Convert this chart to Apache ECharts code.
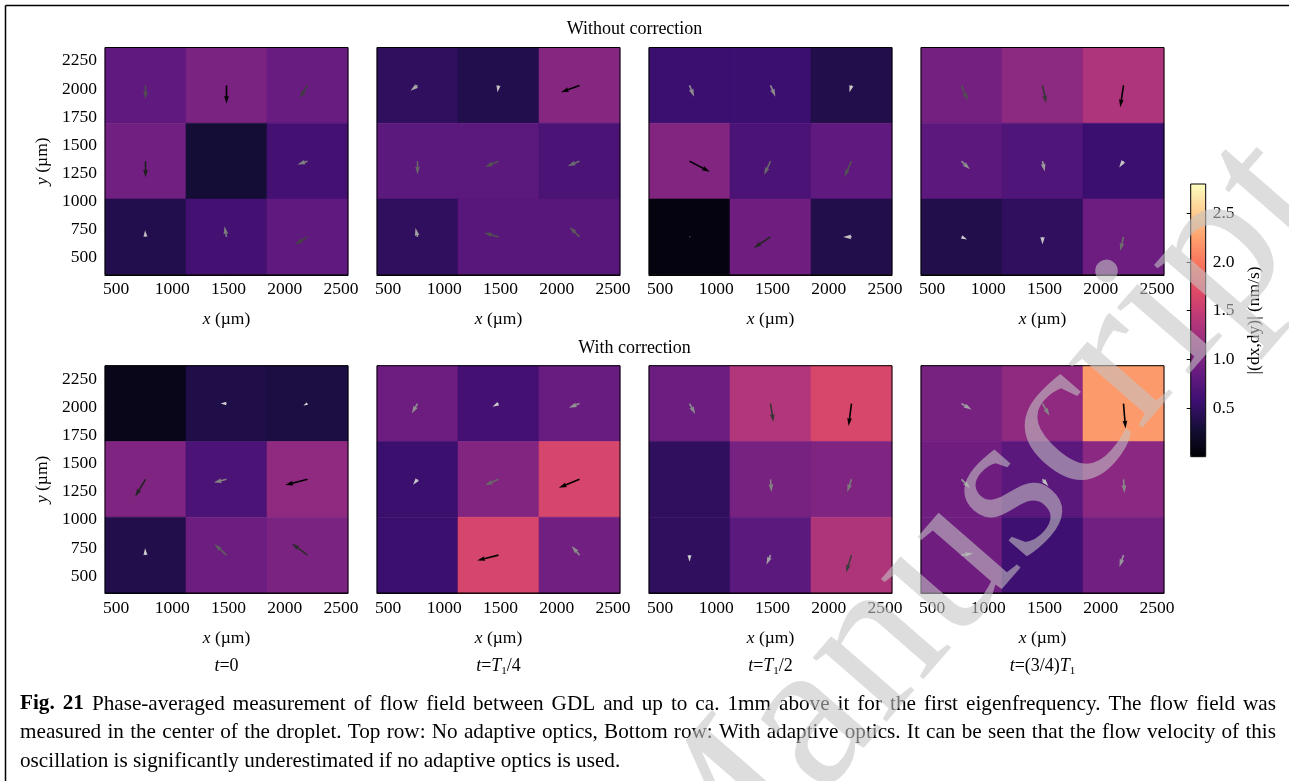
<!DOCTYPE html>
<html><head><meta charset="utf-8">
<script src="https://cdn.jsdelivr.net/npm/echarts@6/dist/echarts.min.js"></script>
<style>html,body{margin:0;padding:0;background:#fff}#c{width:1289px;height:781px}</style>
</head><body><div id="c"></div>
<script>
// ---------- data ----------
const xEdges = [402, 1122, 1842, 2562];            // µm, cell boundaries in x
const yEdges = [2368, 1695.3, 1022.7, 350];        // µm, cell boundaries in y (top to bottom)
const xTicks = [500, 1000, 1500, 2000, 2500];
const yTicks = [500, 750, 1000, 1250, 1500, 1750, 2000, 2250];
const cbTicks = [0.5, 1.0, 1.5, 2.0, 2.5];
const cbRange = [0, 2.8];
const rowTitles = ['Without correction', 'With correction'];
const phaseLabels = ['{i|t}=0', '{i|t}={i|T}{s|1}/4', '{i|t}={i|T}{s|1}/2', '{i|t}=(3/4){i|T}{s|1}'];

// |(dx,dy)| in nm/s, 3x3 cells, row-major, top row first
const magTop1 = [0.81, 1.00, 0.87, 0.93, 0.28, 0.62, 0.39, 0.62, 0.81];
const magTop2 = [0.48, 0.39, 1.07, 0.78, 0.78, 0.67, 0.48, 0.76, 0.76];
const magTop3 = [0.56, 0.56, 0.38, 1.04, 0.67, 0.81, 0.06, 0.92, 0.38];
const magTop4 = [0.95, 1.12, 1.34, 0.79, 0.70, 0.56, 0.38, 0.48, 0.90];
const magBot1 = [0.11, 0.36, 0.34, 1.03, 0.67, 1.14, 0.38, 0.89, 1.00];
const magBot2 = [0.90, 0.62, 0.87, 0.55, 1.05, 1.62, 0.55, 1.62, 0.93];
const magBot3 = [0.89, 1.37, 1.63, 0.48, 0.97, 1.03, 0.48, 0.78, 1.35];
const magBot4 = [0.97, 1.14, 2.21, 0.92, 0.77, 1.11, 0.92, 0.58, 0.93];

// arrow components, drawn in axis units (µm), tail at cell centre
const uTop1 = [0, 0, -68, 0, 0, -89, -4, -18, -109];
const vTop1 = [-124, -163, -113, -146, 0, -29, 60, 95, -68];
const uTop2 = [-62, -9, -165, 0, -121, -105, -18, -127, -89];
const vTop2 = [-47, -62, -62, -118, -51, -44, 80, 38, 89];
const uTop3 = [41, 44, -18, 181, -57, -63, 13, -149, -73];
const vTop3 = [-100, -100, -62, -95, -124, -140, 0, -98, 0];
const uTop4 = [56, 33, -29, 74, 20, -38, 49, 0, -29];
const vTop4 = [-137, -159, -194, -73, -92, -57, -22, -67, -124];
const uBot1 = [0, -53, -36, -92, -113, -198, -4, -107, -140];
const vBot1 = [0, 0, -18, -154, -29, -51, 60, 98, 104];
const uBot2 = [-51, -53, -95, -40, -121, -184, 0, -190, -70];
const vBot2 = [-89, -27, -36, -49, -53, -74, 0, -47, 80];
const uBot3 = [51, 26, -26, 0, 9, -38, 0, -36, -48];
const vBot3 = [-95, -163, -198, 0, -113, -113, -60, -86, -154];
const uBot4 = [89, 62, 18, 77, 53, 9, 104, 0, -36];
const vBot4 = [-53, -108, -222, -79, -62, -121, 16, 0, -105];

const captionLines = [
  'Fig. 21 Phase-averaged measurement of flow field between GDL and up to ca. 1mm above it for the first eigenfrequency. The flow field was',
  'measured in the center of the droplet. Top row: No adaptive optics, Bottom row: With adaptive optics. It can be seen that the flow velocity of this',
  'oscillation is significantly underestimated if no adaptive optics is used.'
];

// ---------- styling / layout ----------
const FONT = '"Liberation Serif", "Times New Roman", serif';
const MAGMA = ['#000004', '#140e36', '#3b0f70', '#641a80', '#8c2981', '#b73779', '#de4968', '#f7705c', '#fe9f6d', '#fecf92', '#fcfdbf'];
const GREYS = ['#ffffff', '#f0f0f0', '#d9d9d9', '#bdbdbd', '#969696', '#737373', '#525252', '#252525', '#000000'];
const gridLefts = [105, 377, 649, 921];
const gridTops = [47.5, 365.7];
const GW = 243, GH = 227.3;
const SHAFT = 1.6;

const panels = [
  [magTop1, uTop1, vTop1], [magTop2, uTop2, vTop2], [magTop3, uTop3, vTop3], [magTop4, uTop4, vTop4],
  [magBot1, uBot1, vBot1], [magBot2, uBot2, vBot2], [magBot3, uBot3, vBot3], [magBot4, uBot4, vBot4]
];

function renderCell(params, api) {
  const p0 = api.coord([api.value(0), api.value(3)]);
  const p1 = api.coord([api.value(1), api.value(2)]);
  const c = api.visual('color');
  return { type: 'rect', shape: { x: p0[0], y: p0[1], width: p1[0] - p0[0], height: p1[1] - p0[1] },
    style: { fill: c, stroke: c, lineWidth: 0.6 } };
}
function renderArrow(params, api) {
  const x = api.value(0), y = api.value(1), u = api.value(2), v = api.value(3);
  if (!u && !v) return null;
  const p0 = api.coord([x, y]);
  const p1 = api.coord([x + u, y + v]);
  const dx = p1[0] - p0[0], dy = p1[1] - p0[1];
  const L = Math.hypot(dx, dy);
  const w = SHAFT, hl = 5 * w;
  const s = L < hl ? L / hl : 1;
  const W = w * s / 2, HL = hl * s, HAL = 4.5 * w * s, HW = 1.5 * w * s;
  const loc = [[0, -W], [L - HAL, -W], [L - HL, -HW], [L, 0], [L - HL, HW], [L - HAL, W], [0, W]];
  const cs = dx / L, sn = dy / L;
  const pts = loc.map(([a, b]) => [p0[0] + a * cs - b * sn, p0[1] + a * sn + b * cs]);
  return { type: 'polygon', shape: { points: pts }, style: { fill: api.visual('color') } };
}

const grids = [], xAxes = [], yAxes = [], series = [], visualMaps = [];
const lblStyle = { fontFamily: FONT, fontSize: 17.5, color: '#000' };
const plain = v => String(v);

panels.forEach((p, i) => {
  const row = Math.floor(i / 4), col = i % 4;
  grids.push({ left: gridLefts[col], top: gridTops[row], width: GW, height: GH, show: true,
    backgroundColor: 'transparent', borderColor: '#000', borderWidth: 1, z: 10 });
  xAxes.push({ type: 'value', gridIndex: i, min: xEdges[0], max: xEdges[3],
    axisLine: { show: true, lineStyle: { color: '#000', width: 1 } },
    axisTick: { show: true, inside: true, length: 4, lineStyle: { color: '#000' }, customValues: xTicks },
    axisLabel: Object.assign({ margin: 6, customValues: xTicks, formatter: plain }, lblStyle),
    splitLine: { show: false },
    name: '{i|x} (µm)', nameLocation: 'middle', nameGap: 36,
    nameTextStyle: Object.assign({ rich: { i: { fontStyle: 'italic', fontFamily: FONT, fontSize: 17.5 } } }, lblStyle) });
  yAxes.push({ type: 'value', gridIndex: i, min: yEdges[3], max: yEdges[0],
    axisLine: { show: true, lineStyle: { color: '#000', width: 1 } },
    axisTick: { show: true, inside: true, length: 4, lineStyle: { color: '#000' }, customValues: yTicks },
    axisLabel: Object.assign({ show: col === 0, margin: 8, customValues: yTicks, formatter: plain }, lblStyle),
    splitLine: { show: false },
    name: col === 0 ? '{i|y} (µm)' : '', nameLocation: 'middle', nameGap: 54,
    nameTextStyle: Object.assign({ rich: { i: { fontStyle: 'italic', fontFamily: FONT, fontSize: 17.5 } } }, lblStyle) });
  const cells = [];
  const arrows = [];
  for (let r = 0; r < 3; r++) for (let c = 0; c < 3; c++) {
    const k = r * 3 + c;
    cells.push([xEdges[c], xEdges[c + 1], yEdges[r + 1], yEdges[r], p[0][k]]);
    const xc = (xEdges[c] + xEdges[c + 1]) / 2, yc = (yEdges[r] + yEdges[r + 1]) / 2;
    arrows.push([xc, yc, p[1][k], p[2][k], Math.hypot(p[1][k], p[2][k])]);
  }
  series.push({ type: 'custom', xAxisIndex: i, yAxisIndex: i, data: cells, renderItem: renderCell, silent: true, z: 2 });
  series.push({ type: 'custom', xAxisIndex: i, yAxisIndex: i, data: arrows, renderItem: renderArrow, silent: true, z: 3 });
  const maxMag = Math.max(...arrows.map(a => a[4]));
  visualMaps.push({ type: 'continuous', show: false, seriesIndex: 2 * i + 1, dimension: 4, min: 0, max: maxMag,
    inRange: { color: GREYS } });
});

// colorbar
visualMaps.unshift({ type: 'continuous', show: true, seriesIndex: [0, 2, 4, 6, 8, 10, 12, 14], dimension: 4,
  min: cbRange[0], max: cbRange[1], calculable: false, orient: 'vertical', left: 1190.7, top: 184,
  itemWidth: 15, itemHeight: 272.7, padding: 0, inRange: { color: MAGMA }, textStyle: { color: 'transparent' } });
grids.push({ left: 1190.7, top: 184, width: 15, height: 272.7, show: true, backgroundColor: 'transparent',
  borderColor: '#000', borderWidth: 1, z: 10 });
xAxes.push({ type: 'value', gridIndex: 8, show: false, min: 0, max: 1 });
yAxes.push({ type: 'value', gridIndex: 8, position: 'right', min: cbRange[0], max: cbRange[1],
  axisLine: { show: false },
  axisTick: { show: true, inside: true, length: 4, lineStyle: { color: '#000' }, customValues: cbTicks },
  axisLabel: Object.assign({ margin: 7, customValues: cbTicks, formatter: v => v.toFixed(1) }, lblStyle),
  splitLine: { show: false },
  name: '|(dx,dy)| (nm/s)', nameLocation: 'middle', nameRotate: 90, nameGap: 40, nameTextStyle: lblStyle });

// graphics: titles, phase labels, caption, frame, watermark
const graphics = [];
graphics.push({ type: 'line', shape: { x1: 5.5, y1: 5.5, x2: 1295, y2: 5.5 }, style: { stroke: '#000', lineWidth: 1.5 }, z: 20 });
graphics.push({ type: 'line', shape: { x1: 5.5, y1: 5.5, x2: 5.5, y2: 800 }, style: { stroke: '#000', lineWidth: 1.5 }, z: 20 });
rowTitles.forEach((t, r) => {
  graphics.push({ type: 'text', x: 634.5, y: r === 0 ? 29 : 348,
    style: { text: t, fontFamily: FONT, fontSize: 18, fill: '#000', align: 'center', verticalAlign: 'middle', textAlign: 'center', textVerticalAlign: 'middle' }, z: 20 });
});
phaseLabels.forEach((t, c) => {
  graphics.push({ type: 'text', x: gridLefts[c] + GW / 2, y: 666,
    style: { text: t, fontFamily: FONT, fontSize: 18, fill: '#000', align: 'center', verticalAlign: 'middle', textAlign: 'center', textVerticalAlign: 'middle',
      rich: { i: { fontStyle: 'italic', fontFamily: FONT, fontSize: 18, lineHeight: 22 },
              s: { fontFamily: FONT, fontSize: 11, verticalAlign: 'bottom', lineHeight: 14 } } }, z: 20 });
});

const CAP_SIZE = 21.2, CAP_LEFT = 20, CAP_RIGHT = 1276, CAP_TOP = 704, CAP_LH = 28.5;
(function () {
  const ctx = document.createElement('canvas').getContext('2d');
  captionLines.forEach((line, li) => {
    const words = line.split(' ');
    const weights = words.map((w, wi) => (li === 0 && wi < 2) ? 'bold' : 'normal');
    const widths = words.map((w, wi) => { ctx.font = weights[wi] + ' ' + CAP_SIZE + 'px ' + FONT; return ctx.measureText(w).width; });
    ctx.font = 'normal ' + CAP_SIZE + 'px ' + FONT;
    const sp = ctx.measureText(' ').width;
    const total = widths.reduce((a, b) => a + b, 0);
    const justify = li < captionLines.length - 1;
    const gap = justify ? (CAP_RIGHT - CAP_LEFT - total) / (words.length - 1) : sp;
    let x = CAP_LEFT;
    words.forEach((w, wi) => {
      graphics.push({ type: 'text', x: x, y: CAP_TOP + li * CAP_LH,
        style: { text: w, fontFamily: FONT, fontSize: CAP_SIZE, fontWeight: weights[wi], fill: '#000',
          align: 'left', verticalAlign: 'middle', textAlign: 'left', textVerticalAlign: 'middle' }, z: 20 });
      x += widths[wi] + gap;
    });
  });
})();

graphics.push({ type: 'text', x: 973, y: 537, rotation: 49 * Math.PI / 180,
  style: { text: 'Manuscript', fontFamily: FONT, fontSize: 213, fill: 'rgba(196,196,196,0.58)',
    align: 'center', verticalAlign: 'middle', textAlign: 'center', textVerticalAlign: 'middle' }, z: 100, silent: true });

const chart = echarts.init(document.getElementById('c'), null, { renderer: 'canvas' });
chart.setOption({
  animation: false,
  backgroundColor: '#fff',
  grid: grids, xAxis: xAxes, yAxis: yAxes, series: series, visualMap: visualMaps,
  graphic: { elements: graphics }
});
</script></body></html>
